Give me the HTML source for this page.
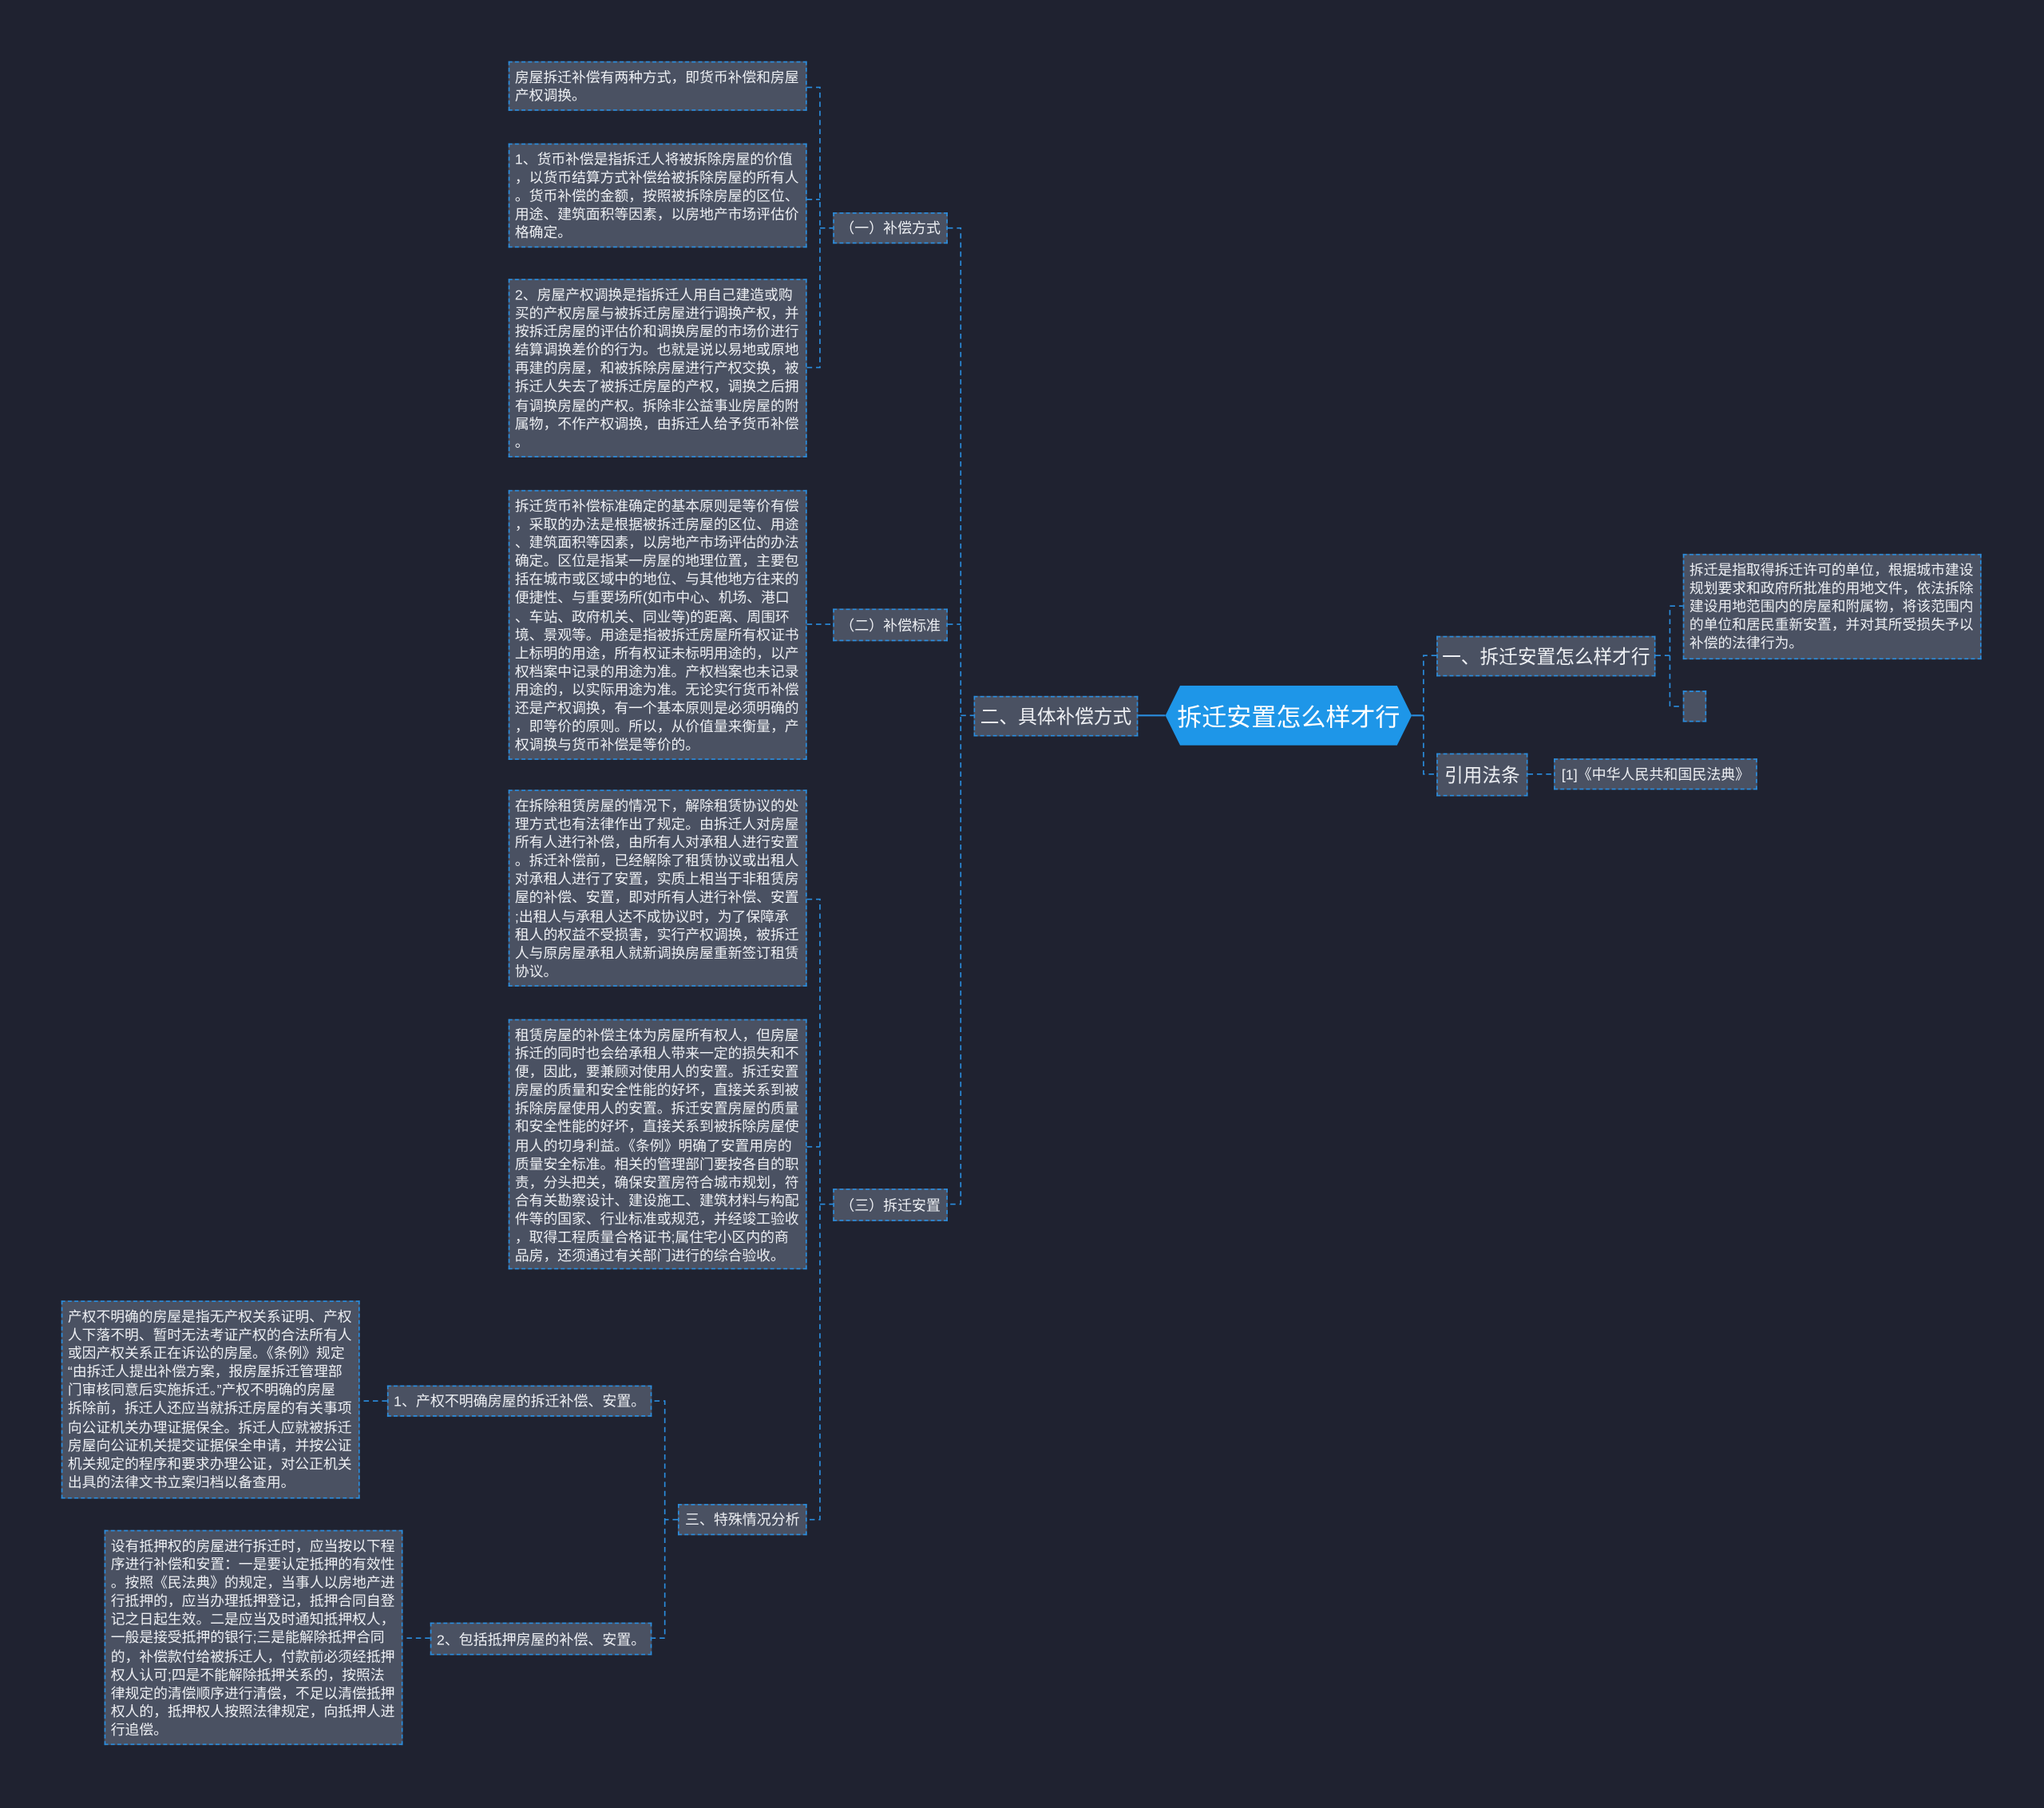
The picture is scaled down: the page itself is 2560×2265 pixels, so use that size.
<!DOCTYPE html>
<html><head><meta charset="utf-8">
<style>
html,body{margin:0;padding:0;background:#1f2230;}
#wrap{position:absolute;left:0;top:0;width:1568px;height:1387px;transform:scale(1.632653);transform-origin:0 0;background:#1f2230;overflow:hidden;}
.n{position:absolute;box-sizing:border-box;background:#4a5162;border:1px dashed #2a8ee0;color:#eceef2;font-family:"Liberation Sans","Noto Sans CJK SC",sans-serif;white-space:nowrap;}
.t{font-size:10.9px;line-height:14.1px;padding:5px 0 0 4px;}
.s{font-size:11px;display:flex;align-items:center;justify-content:center;}
.m{font-size:14.5px;display:flex;align-items:center;justify-content:center;}
svg{position:absolute;left:0;top:0;}
#c{position:absolute;left:894px;top:526px;width:189px;height:46px;background:#1e96e8;clip-path:polygon(6% 0,94% 0,100% 50%,94% 100%,6% 100%,0 50%);color:#fff;font-family:"Liberation Sans","Noto Sans CJK SC",sans-serif;font-size:19px;display:flex;align-items:center;justify-content:center;}
</style></head><body><div id="wrap">
<svg width="1568" height="1387"><g fill="none" stroke="#2a8ee0" stroke-width="1" stroke-dasharray="4,3">
<path d="M619,67H629V282H619M619,153H629M629,175H639"/>
<path d="M619,479H639"/>
<path d="M619,690H629V1166H619M619,880H629M629,924H639"/>
<path d="M727,175H737V924H727M727,479H737M737,549H747"/>
<path d="M520,1166H510V1075H500M510,1166V1257H500"/>
<path d="M297,1075H276M330,1257H309"/>
<path d="M1102,503H1092V594H1102"/>
<path d="M1270,503H1281V465H1291M1281,503V542H1291"/>
<path d="M1172,594H1192"/>
</g>
<path d="M873,549H894M1083,549H1092" stroke="#2a8ee0" stroke-width="1.3"/>
</svg>
<div class="n t" style="left:390px;top:47px;width:229px;height:38px;">房屋拆迁补偿有两种方式，即货币补偿和房屋<br>产权调换。</div>
<div class="n t" style="left:390px;top:110px;width:229px;height:80px;">1、货币补偿是指拆迁人将被拆除房屋的价值<br>，以货币结算方式补偿给被拆除房屋的所有人<br>。货币补偿的金额，按照被拆除房屋的区位、<br>用途、建筑面积等因素，以房地产市场评估价<br>格确定。</div>
<div class="n t" style="left:390px;top:214px;width:229px;height:137px;">2、房屋产权调换是指拆迁人用自己建造或购<br>买的产权房屋与被拆迁房屋进行调换产权，并<br>按拆迁房屋的评估价和调换房屋的市场价进行<br>结算调换差价的行为。也就是说以易地或原地<br>再建的房屋，和被拆除房屋进行产权交换，被<br>拆迁人失去了被拆迁房屋的产权，调换之后拥<br>有调换房屋的产权。拆除非公益事业房屋的附<br>属物，不作产权调换，由拆迁人给予货币补偿<br>。</div>
<div class="n s" style="left:639px;top:163px;width:88px;height:24px;">（一）补偿方式</div>
<div class="n t" style="left:390px;top:376px;width:229px;height:207px;">拆迁货币补偿标准确定的基本原则是等价有偿<br>，采取的办法是根据被拆迁房屋的区位、用途<br>、建筑面积等因素，以房地产市场评估的办法<br>确定。区位是指某一房屋的地理位置，主要包<br>括在城市或区域中的地位、与其他地方往来的<br>便捷性、与重要场所(如市中心、机场、港口<br>、车站、政府机关、同业等)的距离、周围环<br>境、景观等。用途是指被拆迁房屋所有权证书<br>上标明的用途，所有权证未标明用途的，以产<br>权档案中记录的用途为准。产权档案也未记录<br>用途的，以实际用途为准。无论实行货币补偿<br>还是产权调换，有一个基本原则是必须明确的<br>，即等价的原则。所以，从价值量来衡量，产<br>权调换与货币补偿是等价的。</div>
<div class="n s" style="left:639px;top:467px;width:88px;height:25px;">（二）补偿标准</div>
<div class="n t" style="left:390px;top:606px;width:229px;height:151px;">在拆除租赁房屋的情况下，解除租赁协议的处<br>理方式也有法律作出了规定。由拆迁人对房屋<br>所有人进行补偿，由所有人对承租人进行安置<br>。拆迁补偿前，已经解除了租赁协议或出租人<br>对承租人进行了安置，实质上相当于非租赁房<br>屋的补偿、安置，即对所有人进行补偿、安置<br>;出租人与承租人达不成协议时，为了保障承<br>租人的权益不受损害，实行产权调换，被拆迁<br>人与原房屋承租人就新调换房屋重新签订租赁<br>协议。</div>
<div class="n t" style="left:390px;top:782px;width:229px;height:192px;">租赁房屋的补偿主体为房屋所有权人，但房屋<br>拆迁的同时也会给承租人带来一定的损失和不<br>便，因此，要兼顾对使用人的安置。拆迁安置<br>房屋的质量和安全性能的好坏，直接关系到被<br>拆除房屋使用人的安置。拆迁安置房屋的质量<br>和安全性能的好坏，直接关系到被拆除房屋使<br>用人的切身利益。《条例》明确了安置用房的<br>质量安全标准。相关的管理部门要按各自的职<br>责，分头把关，确保安置房符合城市规划，符<br>合有关勘察设计、建设施工、建筑材料与构配<br>件等的国家、行业标准或规范，并经竣工验收<br>，取得工程质量合格证书;属住宅小区内的商<br>品房，还须通过有关部门进行的综合验收。</div>
<div class="n s" style="left:639px;top:912px;width:88px;height:25px;">（三）拆迁安置</div>
<div class="n m" style="left:747px;top:534px;width:126px;height:31px;">二、具体补偿方式</div>
<div id="c">拆迁安置怎么样才行</div>
<div class="n m" style="left:1102px;top:488px;width:168px;height:31px;">一、拆迁安置怎么样才行</div>
<div class="n t" style="left:1291px;top:425px;width:229px;height:81px;">拆迁是指取得拆迁许可的单位，根据城市建设<br>规划要求和政府所批准的用地文件，依法拆除<br>建设用地范围内的房屋和附属物，将该范围内<br>的单位和居民重新安置，并对其所受损失予以<br>补偿的法律行为。</div>
<div class="n" style="left:1291px;top:530px;width:18px;height:24px;"></div>
<div class="n m" style="left:1102px;top:578px;width:70px;height:33px;">引用法条</div>
<div class="n s" style="left:1192px;top:582px;width:156px;height:24px;">[1]《中华人民共和国民法典》</div>
<div class="n s" style="left:520px;top:1154px;width:99px;height:24px;">三、特殊情况分析</div>
<div class="n s" style="left:297px;top:1063px;width:203px;height:24px;">1、产权不明确房屋的拆迁补偿、安置。</div>
<div class="n t" style="left:47px;top:998px;width:229px;height:152px;">产权不明确的房屋是指无产权关系证明、产权<br>人下落不明、暂时无法考证产权的合法所有人<br>或因产权关系正在诉讼的房屋。《条例》规定<br>“由拆迁人提出补偿方案，报房屋拆迁管理部<br>门审核同意后实施拆迁。”产权不明确的房屋<br>拆除前，拆迁人还应当就拆迁房屋的有关事项<br>向公证机关办理证据保全。拆迁人应就被拆迁<br>房屋向公证机关提交证据保全申请，并按公证<br>机关规定的程序和要求办理公证，对公正机关<br>出具的法律文书立案归档以备查用。</div>
<div class="n s" style="left:330px;top:1245px;width:170px;height:25px;">2、包括抵押房屋的补偿、安置。</div>
<div class="n t" style="left:80px;top:1174px;width:229px;height:165px;">设有抵押权的房屋进行拆迁时，应当按以下程<br>序进行补偿和安置：一是要认定抵押的有效性<br>。按照《民法典》的规定，当事人以房地产进<br>行抵押的，应当办理抵押登记，抵押合同自登<br>记之日起生效。二是应当及时通知抵押权人，<br>一般是接受抵押的银行;三是能解除抵押合同<br>的，补偿款付给被拆迁人，付款前必须经抵押<br>权人认可;四是不能解除抵押关系的，按照法<br>律规定的清偿顺序进行清偿，不足以清偿抵押<br>权人的，抵押权人按照法律规定，向抵押人进<br>行追偿。</div>
</div></body></html>
